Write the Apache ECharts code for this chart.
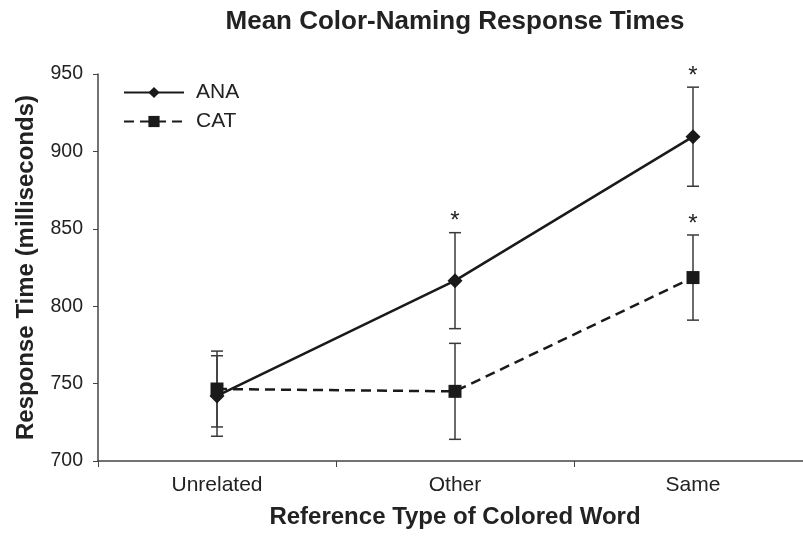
<!DOCTYPE html>
<html>
<head>
<meta charset="utf-8">
<script src="https://cdn.jsdelivr.net/npm/echarts@6/dist/echarts.min.js"></script>
<style>html,body{margin:0;padding:0;background:#fff}#c{width:803px;height:536px}</style>
</head>
<body>
<div id="c"></div>
<script>
const categories = ['Unrelated', 'Other', 'Same'];
const anaMean = [742, 816.5, 909.5];
const anaErr = [26, 31, 32];
const anaSig = [false, true, true];
const catMean = [746.5, 745, 818.5];
const catErr = [24.5, 31, 27.5];
const catSig = [false, false, true];
const yTicks = [700, 750, 800, 850, 900, 950];

function errData(mean, err, sig) {
  return mean.map((m, i) => [i, m - err[i], m + err[i], sig[i] ? 1 : 0]);
}

function renderErr(params, api) {
  const i = api.value(0);
  const lo = api.coord([i, api.value(1)]);
  const hi = api.coord([i, api.value(2)]);
  const w = 6;
  const st = { stroke: '#3a3a3a', lineWidth: 1.5 };
  const children = [
    { type: 'line', shape: { x1: lo[0], y1: lo[1], x2: hi[0], y2: hi[1] }, style: st },
    { type: 'line', shape: { x1: lo[0] - w, y1: lo[1], x2: lo[0] + w, y2: lo[1] }, style: st },
    { type: 'line', shape: { x1: hi[0] - w, y1: hi[1], x2: hi[0] + w, y2: hi[1] }, style: st }
  ];
  if (api.value(3)) {
    children.push({ type: 'text', x: hi[0], y: hi[1] + 1, style: { text: '*', fill: '#222', fontSize: 24, fontFamily: 'Liberation Sans, Arial, sans-serif', align: 'center', verticalAlign: 'bottom' } });
  }
  return { type: 'group', children: children };
}

const chart = echarts.init(document.getElementById('c'), null, { renderer: 'canvas' });
const font = 'Liberation Sans, Arial, sans-serif';
chart.setOption({
  animation: false,
  backgroundColor: '#fff',
  title: {
    text: 'Mean Color-Naming Response Times',
    left: 450, top: 4, textAlign: 'center',
    textStyle: { fontFamily: font, fontWeight: 'bold', fontSize: 26, color: '#222' }
  },
  legend: {
    orient: 'vertical', left: 118, top: 77,
    itemWidth: 60, itemHeight: 14, itemGap: 8,
    textStyle: { fontFamily: font, fontSize: 21, color: '#222', padding: [0, 0, 0, 7] },
    data: ['ANA', 'CAT']
  },
  grid: { left: 98, right: -9, top: 74, bottom: 75, containLabel: false, outerBoundsMode: 'none' },
  xAxis: {
    type: 'category', data: categories, boundaryGap: true,
    name: 'Reference Type of Colored Word', nameLocation: 'middle', nameGap: 44,
    nameTextStyle: { fontFamily: font, fontWeight: 'bold', fontSize: 24, color: '#222' },
    axisLine: { lineStyle: { color: '#444', width: 1.5 } },
    axisTick: { show: true, length: 6, lineStyle: { color: '#444' } },
    axisLabel: { fontFamily: font, fontSize: 21, color: '#222', margin: 14 },
    splitLine: { show: false }
  },
  yAxis: {
    type: 'value', min: 700, max: 950, interval: 50,
    name: 'Response Time (milliseconds)', nameLocation: 'middle', nameGap: 60, nameRotate: 90,
    nameTextStyle: { fontFamily: font, fontWeight: 'bold', fontSize: 24, color: '#222' },
    axisLine: { show: true, lineStyle: { color: '#444', width: 1.5 } },
    axisTick: { show: true, length: 5, lineStyle: { color: '#444' } },
    axisLabel: { fontFamily: font, fontSize: 19.5, color: '#222', margin: 15,
      formatter: v => yTicks.includes(v) ? String(v) : '' },
    splitLine: { show: false }
  },
  series: [
    { type: 'custom', name: 'anaErr', renderItem: renderErr, data: errData(anaMean, anaErr, anaSig), z: 1, silent: true, encode: { x: 0, y: [1, 2] } },
    { type: 'custom', name: 'catErr', renderItem: renderErr, data: errData(catMean, catErr, catSig), z: 1, silent: true, encode: { x: 0, y: [1, 2] } },
    { type: 'line', name: 'ANA', data: anaMean, symbol: 'diamond', symbolSize: [15, 15], z: 3,
      lineStyle: { color: '#1a1a1a', width: 2.5, type: 'solid' }, itemStyle: { color: '#1a1a1a' } },
    { type: 'line', name: 'CAT', data: catMean, symbol: 'rect', symbolSize: [13, 13], z: 3,
      lineStyle: { color: '#1a1a1a', width: 2.5, type: [10, 6] }, itemStyle: { color: '#1a1a1a' } }
  ]
});
</script>
</body>
</html>
